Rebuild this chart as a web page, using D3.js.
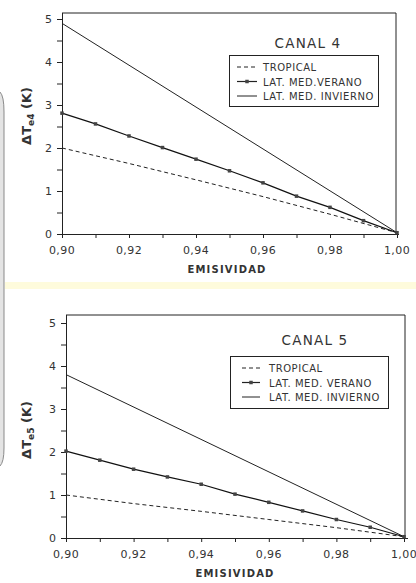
<!DOCTYPE html>
<html>
<head>
<meta charset="utf-8">
<script src="https://cdn.jsdelivr.net/npm/d3@7/dist/d3.min.js"></script>
<style>
  html, body { margin: 0; padding: 0; background: #fff; }
  svg { display: block; }
  text { font-family: "DejaVu Sans", "Liberation Sans", sans-serif; fill: #333; }
</style>
</head>
<body>
<svg id="chart" width="416" height="583"></svg>
<script>
// Emissivity values (x axis)
const emisividad = [0.90, 0.91, 0.92, 0.93, 0.94, 0.95, 0.96, 0.97, 0.98, 0.99, 1.00];
const xTickLabels = ["0,90", "0,92", "0,94", "0,96", "0,98", "1,00"];
const yTickLabels = ["0", "1", "2", "3", "4", "5"];
const seriesNames = ["TROPICAL", "LAT. MED.VERANO", "LAT. MED. INVIERNO"];
const seriesNames5 = ["TROPICAL", "LAT. MED. VERANO", "LAT. MED. INVIERNO"];

// Canal 4 (ΔTe4, K)
const tropical4x = [0.90, 0.92, 0.94, 0.96, 0.98, 1.00];
const tropical4 = [2.0, 1.64, 1.26, 0.87, 0.46, 0.03];
const verano4 = [2.81, 2.56, 2.28, 2.01, 1.74, 1.47, 1.19, 0.88, 0.62, 0.31, 0.03];
const invierno4x = [0.90, 1.00];
const invierno4 = [4.9, 0.03];

// Canal 5 (ΔTe5, K)
const tropical5x = [0.90, 0.92, 0.94, 0.96, 0.98, 1.00];
const tropical5 = [1.0, 0.8, 0.62, 0.43, 0.24, 0.03];
const verano5 = [2.02, 1.81, 1.60, 1.42, 1.25, 1.02, 0.83, 0.63, 0.43, 0.25, 0.03];
const invierno5x = [0.90, 1.00];
const invierno5 = [3.8, 0.03];

const svg = d3.select("#chart");

// page background details: left box edge and pale yellow band between panels
svg.append("rect").attr("x", 5).attr("y", 282).attr("width", 411).attr("height", 7).attr("fill", "#fefbdc");
svg.append("path")
  .attr("d", "M0,92 Q4,96 4,112 L4,448 Q4,462 0,466 Z")
  .attr("fill", "#e4e4e4");
svg.append("path")
  .attr("d", "M0,92 Q4,96 4,112 L4,448 Q4,462 0,466")
  .attr("fill", "none").attr("stroke", "#8a8a8a").attr("stroke-width", 1);

function panel(cfg) {
  const g = svg.append("g");
  const x = d3.scaleLinear().domain([0.90, 1.00]).range([cfg.left, cfg.right]);
  const y = d3.scaleLinear().domain([0, 5]).range([cfg.y0, cfg.y5]);

  // frame (top, right) and axes
  g.append("path")
    .attr("d", `M${cfg.left},${cfg.frameTop} L${cfg.frameRight},${cfg.frameTop} L${cfg.frameRight},${cfg.y0}`)
    .attr("fill", "none").attr("stroke", "#222").attr("stroke-width", 1);

  const xAxis = d3.axisBottom(x)
    .tickValues(emisividad)
    .tickSize(4)
    .tickFormat(() => "");
  const gx = g.append("g").attr("transform", `translate(0,${cfg.y0})`).call(xAxis);
  gx.select(".domain").attr("d", `M${cfg.left},0.5H${cfg.frameRight + 3}`).attr("stroke", "#222");
  gx.selectAll(".tick line").attr("stroke", "#222");

  const xLab = d3.scaleOrdinal().domain([0.90, 0.92, 0.94, 0.96, 0.98, 1.00]).range(xTickLabels);
  g.selectAll(".xl").data(xLab.domain()).join("text")
    .attr("x", d => x(d)).attr("y", cfg.y0 + 20)
    .attr("text-anchor", "middle").attr("font-size", 11).attr("letter-spacing", 0.4)
    .attr("fill", "#444")
    .text(d => xLab(d));

  const yAxis = d3.axisLeft(y)
    .tickValues(d3.range(0, 5.01, 0.5))
    .tickSize(5)
    .tickFormat(() => "");
  const gy = g.append("g").attr("transform", `translate(${cfg.left},0)`).call(yAxis);
  gy.select(".domain").attr("d", `M0.5,${cfg.y0}V${cfg.frameTop}`).attr("stroke", "#222");
  gy.selectAll(".tick line").attr("stroke", "#222");

  g.selectAll(".yl").data(yTickLabels).join("text")
    .attr("x", cfg.left - 10).attr("y", d => y(+d) + 4)
    .attr("text-anchor", "end").attr("font-size", 11).attr("fill", "#444")
    .text(d => d);

  // axis titles
  g.append("text")
    .attr("x", cfg.xTitleX).attr("y", cfg.y0 + 39)
    .attr("text-anchor", "middle").attr("font-size", 10).attr("font-weight", "bold")
    .attr("letter-spacing", 1.2)
    .text("EMISIVIDAD");

  const yt = g.append("text")
    .attr("transform", `translate(31,${cfg.yTitleY}) rotate(-90)`)
    .attr("text-anchor", "middle").attr("font-size", 13).attr("font-weight", "bold");
  yt.append("tspan").text("ΔT");
  yt.append("tspan").attr("font-size", 9).attr("dy", 3).text(cfg.sub);
  yt.append("tspan").attr("dy", -3).text("  (K)");

  const line = d3.line().x(d => x(d[0])).y(d => y(d[1]));

  // tropical (dashed)
  g.append("path")
    .datum(cfg.tropX.map((e, i) => [e, cfg.trop[i]]))
    .attr("d", line).attr("fill", "none").attr("stroke", "#222")
    .attr("stroke-width", 1).attr("stroke-dasharray", "4,3");

  // winter (solid)
  g.append("path")
    .datum(cfg.invX.map((e, i) => [e, cfg.inv[i]]))
    .attr("d", line).attr("fill", "none").attr("stroke", "#222").attr("stroke-width", 1);

  // summer (solid with square markers)
  const ver = emisividad.map((e, i) => [e, cfg.ver[i]]);
  g.append("path").datum(ver)
    .attr("d", line).attr("fill", "none").attr("stroke", "#111").attr("stroke-width", 1.2);
  g.selectAll(".mk").data(ver).join("rect")
    .attr("x", d => x(d[0]) - 1.75).attr("y", d => y(d[1]) - 1.75)
    .attr("width", 3.5).attr("height", 3.5).attr("fill", "#444");

  // title and legend
  g.append("text")
    .attr("x", cfg.titleX).attr("y", cfg.titleY)
    .attr("text-anchor", "middle").attr("font-size", 13.5).attr("letter-spacing", 1.2)
    .attr("fill", "#444")
    .text(cfg.title);

  const L = cfg.legend;
  g.append("rect").attr("x", L.x + 0.5).attr("y", L.y + 0.5).attr("width", L.w).attr("height", L.h)
    .attr("fill", "#fff").attr("stroke", "#222").attr("stroke-width", 1);

  const rows = [0, 1, 2];
  rows.forEach(i => {
    const ry = L.y + 12 + i * 14.5;
    const seg = g.append("line")
      .attr("x1", L.sx1).attr("x2", L.sx2).attr("y1", ry).attr("y2", ry)
      .attr("stroke", "#222").attr("stroke-width", i === 1 ? 1.2 : 1);
    if (i === 0) seg.attr("stroke-dasharray", "4,3");
    if (i === 1) {
      g.append("rect").attr("x", (L.sx1 + L.sx2) / 2 - 1.75).attr("y", ry - 1.75)
        .attr("width", 3.5).attr("height", 3.5).attr("fill", "#444");
    }
    g.append("text")
      .attr("x", L.tx).attr("y", ry + 4)
      .attr("font-size", 10).attr("letter-spacing", 0.55)
      .attr("fill", "#333")
      .text(cfg.names[i]);
  });
}

panel({
  left: 62, right: 397, frameRight: 396, frameTop: 13, y0: 234, y5: 19,
  sub: "e4", title: "CANAL 4", titleX: 308, titleY: 48,
  xTitleX: 227, yTitleY: 116,
  tropX: tropical4x, trop: tropical4, ver: verano4, invX: invierno4x, inv: invierno4,
  names: seriesNames,
  legend: { x: 229, y: 55, w: 149, h: 51, sx1: 237, sx2: 257, tx: 263 }
});

panel({
  left: 66, right: 404, frameRight: 405, frameTop: 315, y0: 538, y5: 323,
  sub: "e5", title: "CANAL 5", titleX: 315, titleY: 345,
  xTitleX: 235, yTitleY: 430,
  tropX: tropical5x, trop: tropical5, ver: verano5, invX: invierno5x, inv: invierno5,
  names: seriesNames5,
  legend: { x: 230, y: 356, w: 158, h: 52, sx1: 242, sx2: 260, tx: 269 }
});
</script>
</body>
</html>
